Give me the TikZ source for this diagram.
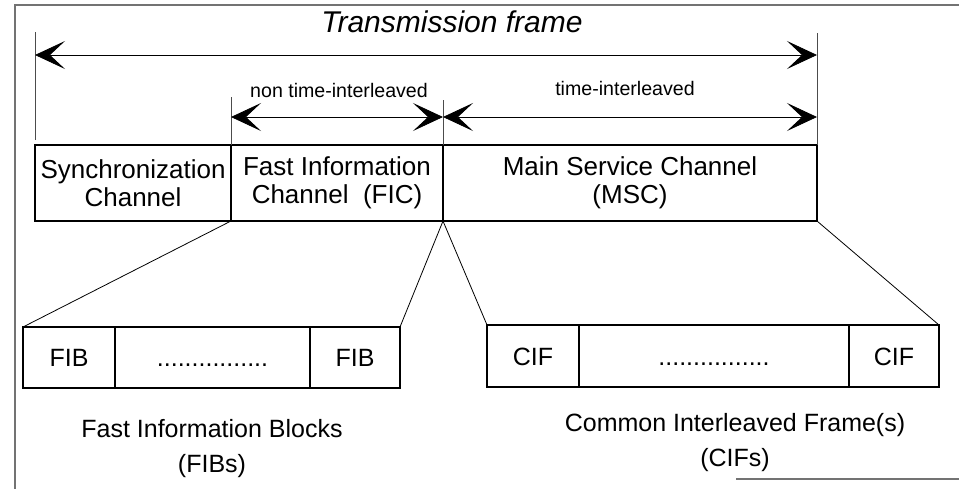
\documentclass[tikz,border=0pt]{standalone}
\usepackage{fontspec}
\setmainfont{Liberation Sans}
\usetikzlibrary{arrows.meta,positioning}

\begin{document}
\begin{tikzpicture}
        [x=0.5pt, y=-0.5pt,
        every node/.style={inner sep=0pt, outer sep=0pt, font=\fontsize{12.5}{13.5}\selectfont},
        chan/.style={draw, line width=1pt, minimum height=38pt, align=center, font=\fontsize{13}{14}\selectfont},
        cell/.style={draw, line width=1pt, minimum height=30.5pt, text height=9pt, text depth=0pt},
        dimline/.style={{Stealth[length=15pt,width=14pt,inset=7.5pt]}-{Stealth[length=15pt,width=14pt,inset=7.5pt]}, thin},
        guide/.style={thin, black!70},
        zoomline/.style={thin},
        border/.style={line width=0.8pt, black!55},
        title/.style={font=\fontsize{15}{18}\selectfont\itshape},
        note/.style={font=\fontsize{9.8}{11}\selectfont},
        ]
        \useasboundingbox (0,0) rectangle (959,489);
        \draw[border] (959,5) -- (15,5) -- (15,489);
        \draw[border] (736,479) -- (959,479);

        % transmission frame
        \node[chan, minimum width=98pt] (sync) at (133,183) {Synchronization\\Channel};
        \node[chan, minimum width=106pt, right=0pt of sync] (fic) {Fast Information\\Channel~~(FIC)};
        \node[chan, minimum width=187pt, right=0pt of fic] (msc) {Main Service Channel\\(MSC)};

        \coordinate (tickA) at ([yshift=56.5pt]sync.north west);
        \coordinate (tickB) at ([yshift=24pt]fic.north west);
        \coordinate (tickC) at ([yshift=22.5pt]fic.north east);
        \coordinate (tickD) at ([yshift=56pt]msc.north east);
        \draw[guide] ([yshift=2.5pt]sync.north west) -- (tickA);
        \draw[guide] (fic.north west) -- (tickB);
        \draw[guide] (fic.north east) -- (tickC);
        \draw[guide] (msc.north east) -- (tickD);

        \draw[dimline] ([yshift=45pt]sync.north west) -- ([yshift=45pt]msc.north east);
        \draw[dimline] ([yshift=14pt]fic.north west) -- ([yshift=14pt]fic.north east);
        \draw[dimline] ([yshift=14pt]msc.north west) -- ([yshift=14pt]msc.north east);

        \node[title] (tframe) at (452,22) {Transmission frame};
        \node[note] (nti) at (339,90) {non time-interleaved};
        \node[note] (ti) at (625,88) {time-interleaved};

        % fast information blocks
        \node[cell, minimum width=46pt] (fibA) at (69,357.5) {FIB};
        \node[cell, minimum width=97.5pt, right=0pt of fibA] (fibdots) {................};
        \node[cell, minimum width=45pt, right=0pt of fibdots] (fibB) {FIB};

        % common interleaved frames
        \node[cell, minimum width=46pt, minimum height=31pt] (cifA) at (533,356) {CIF};
        \node[cell, minimum width=135pt, minimum height=31pt, right=0pt of cifA] (cifdots) {................};
        \node[cell, minimum width=45pt, minimum height=31pt, right=0pt of cifdots] (cifB) {CIF};

        \draw[zoomline] (fic.south west) -- (fibA.north west);
        \draw[zoomline] (fic.south east) -- (fibB.north east);
        \draw[zoomline] (msc.south west) -- (cifA.north west);
        \draw[zoomline] (msc.south east) -- (cifB.north east);

        \node[align=center] (fiblabel) at (212,449) {Fast Information Blocks\\[4pt](FIBs)};
        \node[align=center] (ciflabel) at (735,443) {Common Interleaved Frame(s)\\[4pt](CIFs)};
\end{tikzpicture}
\end{document}
